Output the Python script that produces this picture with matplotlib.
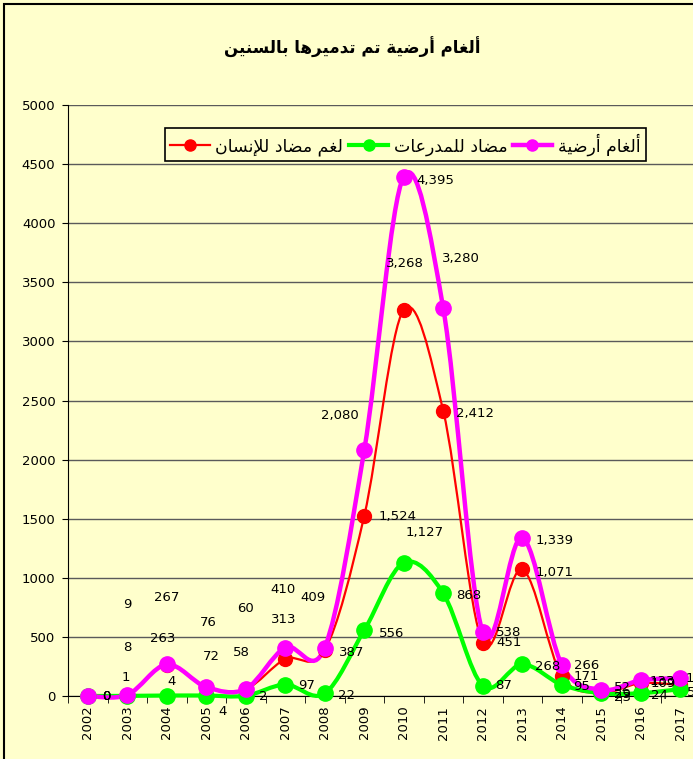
import numpy as np
import matplotlib
matplotlib.use('Agg')
import matplotlib.pyplot as plt
from matplotlib.path import Path
from matplotlib.patches import PathPatch, Rectangle
from matplotlib.lines import Line2D

# data
years = ['2002', '2003', '2004', '2005', '2006', '2007', '2008', '2009',
         '2010', '2011', '2012', '2013', '2014', '2015', '2016', '2017']
anti_personnel = [0, 8, 263, 72, 58, 313, 387, 1524, 3268, 2412, 451, 1071, 171, 29, 109, 93]
anti_tank = [0, 1, 4, 4, 2, 97, 22, 556, 1127, 868, 87, 268, 95, 23, 24, 58]
landmines = [0, 9, 267, 76, 60, 410, 409, 2080, 4395, 3280, 538, 1339, 266, 52, 133, 151]

title = 'ألغام أرضية تم تدميرها بالسنين'
names = ['لغم مضاد للإنسان', 'مضاد للمدرعات', 'ألغام أرضية']

# label offsets in pixels (dx right, dy up) - labels were moved by hand in the original
off_red = [(19, -1), (0, 48), (-4, 26), (5, 31), (-4, 37), (-2, 40), (27, -2), (33, -1),
           (1, 46), (32, -3), (26, 0), (32, -3), (25, -1), (21, -2), (22, 0), (20, 0)]
off_green = [(19, -1), (-1, 18), (5, 14), (16, -16), (17, -1), (21, -1), (22, -2), (27, -3),
             (21, 30), (25, -2), (21, 0), (25, -2), (20, -2), (21, -4), (19, -2), (15, -3)]
off_mag = [(19, -1), (0, 90), (0, 67), (2, 65), (0, 80), (-2, 58), (-12, 50), (-24, 35),
           (32, -4), (18, 50), (26, 0), (32, -3), (25, -1), (21, 2), (22, -1), (18, 0)]

# --- minimal arabic shaping (matplotlib has no text shaping) ---
FORMS = {
    'ا': ('\uFE8D', '\uFE8E'), 'أ': ('\uFE83', '\uFE84'), 'إ': ('\uFE87', '\uFE88'),
    'د': ('\uFEA9', '\uFEAA'), 'ر': ('\uFEAD', '\uFEAE'), 'ة': ('\uFE93', '\uFE94'),
    'ب': ('\uFE8F', '\uFE90', '\uFE91', '\uFE92'), 'ت': ('\uFE95', '\uFE96', '\uFE97', '\uFE98'),
    'س': ('\uFEB1', '\uFEB2', '\uFEB3', '\uFEB4'), 'ض': ('\uFEBD', '\uFEBE', '\uFEBF', '\uFEC0'),
    'ع': ('\uFEC9', '\uFECA', '\uFECB', '\uFECC'), 'غ': ('\uFECD', '\uFECE', '\uFECF', '\uFED0'),
    'ل': ('\uFEDD', '\uFEDE', '\uFEDF', '\uFEE0'), 'م': ('\uFEE1', '\uFEE2', '\uFEE3', '\uFEE4'),
    'ن': ('\uFEE5', '\uFEE6', '\uFEE7', '\uFEE8'), 'ه': ('\uFEE9', '\uFEEA', '\uFEEB', '\uFEEC'),
    'ي': ('\uFEF1', '\uFEF2', '\uFEF3', '\uFEF4'),
}
LAM_ALEF = {'ا': ('\uFEFB', '\uFEFC'), 'أ': ('\uFEF7', '\uFEF8'), 'إ': ('\uFEF9', '\uFEFA')}


def shape(text):
    out = []
    i = 0
    while i < len(text):
        c = text[i]
        prev = text[i - 1] if i > 0 else ''
        joins_prev = prev in FORMS and len(FORMS[prev]) == 4
        nxt = text[i + 1] if i + 1 < len(text) else ''
        if c == 'ل' and nxt in LAM_ALEF:
            out.append(LAM_ALEF[nxt][1 if joins_prev else 0])
            i += 2
            continue
        if c not in FORMS:
            out.append(c)
            i += 1
            continue
        f = FORMS[c]
        joins_next = len(f) == 4 and nxt in FORMS
        if joins_prev and joins_next:
            out.append(f[3])
        elif joins_prev:
            out.append(f[1])
        elif joins_next:
            out.append(f[2])
        else:
            out.append(f[0])
        i += 1
    return ''.join(reversed(out))


def smooth_path(xs, ys):
    # excel style smoothed line: cubic bezier through every point
    pts = np.column_stack([xs, ys]).astype(float)
    verts = [pts[0]]
    codes = [Path.MOVETO]
    n = len(pts)
    for i in range(n - 1):
        p0 = pts[i - 1] if i > 0 else pts[i]
        p3 = pts[i + 2] if i + 2 < n else pts[i + 1]
        c1 = pts[i] + (pts[i + 1] - p0) / 6.0
        c2 = pts[i + 1] - (p3 - pts[i]) / 6.0
        verts += [c1, c2, pts[i + 1]]
        codes += [Path.CURVE4] * 3
    return Path(verts, codes)


bg = '#FFFFCC'
W, H = 693, 759
fig = plt.figure(figsize=(W / 100, H / 100), dpi=100, facecolor=bg)
ax = fig.add_axes([68 / W, 1 - 696 / H, (700 - 68) / W, (696 - 105) / H])
ax.set_facecolor(bg)

x = np.arange(len(years))
series = [
    (anti_personnel, '#FF0000', 1.6, 10, off_red),
    (anti_tank, '#00FF00', 3.0, 11, off_green),
    (landmines, '#FF00FF', 3.2, 11, off_mag),
]
for vals, col, lw, ms, offs in series:
    ax.add_patch(PathPatch(smooth_path(x, vals), fill=False, edgecolor=col, lw=lw,
                           clip_on=False, zorder=3))
    ax.plot(x, vals, 'o', color=col, ms=ms, clip_on=False, zorder=4)

for vals, col, lw, ms, offs in series:
    for xi, v, (dx, dy) in zip(x, vals, offs):
        ax.annotate(f'{v:,}', (xi, v), xytext=(dx, dy), textcoords='offset pixels',
                    ha='center', va='center', fontsize=9.5, color='black', zorder=6,
                    annotation_clip=False)

ax.set_xlim(-0.5, len(years) - 0.5)
ax.set_ylim(0, 5000)
ax.set_yticks(np.arange(0, 5001, 500))
ax.yaxis.grid(True, color='#5a5a5a', lw=1)
ax.set_axisbelow(True)
ax.set_xticks(x)
ax.set_xticklabels(years, rotation=90, fontsize=9.5)
ax.set_xticks(np.arange(-0.5, len(years), 1), minor=True)
ax.tick_params(axis='x', which='major', length=0, pad=7)
ax.tick_params(axis='x', which='minor', length=5, direction='out')
ax.tick_params(axis='y', length=4, direction='out', pad=5, labelsize=9.5)
ax.spines['top'].set_visible(False)
ax.spines['right'].set_visible(False)

fig.text(352 / W, 1 - 47 / H, shape(title), ha='center', va='center',
         fontsize=12, fontweight='bold', family=['DejaVu Sans', 'Noto Sans'])

handles = [Line2D([], [], color=c, lw=lw, marker='o', ms=8) for _, c, lw, _, _ in series]
leg = fig.legend(handles, [shape(n) for n in names], ncol=3, loc='upper left',
                 bbox_to_anchor=(165 / W, 1 - 128 / H), fontsize=12.5, frameon=True,
                 fancybox=False, facecolor=bg, edgecolor='black', framealpha=1,
                 handlelength=2.3, columnspacing=0.3, handletextpad=0.3,
                 borderpad=0.3, borderaxespad=0)
leg.get_frame().set_linewidth(1.2)

# chart area border
fig.add_artist(Rectangle((4 / W, -0.1), 1.2, 1.1 - 4 / H, transform=fig.transFigure,
                         fill=False, edgecolor='black', lw=1.5))

fig.savefig('out.png', dpi=100, facecolor=bg)
